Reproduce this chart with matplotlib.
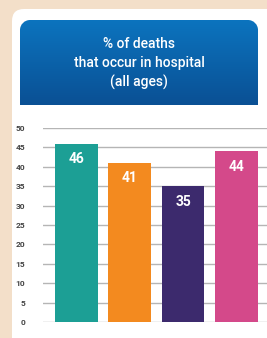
import numpy as np
import matplotlib.pyplot as plt
from matplotlib.path import Path
from matplotlib.patches import FancyBboxPatch

# data
categories = ['A', 'B', 'C', 'D']
values = [46, 41, 35, 44]
colors = ['#1c9f95', '#f38a1f', '#3c2a6d', '#d4498a']
yticks = list(range(0, 51, 5))
title = '% of deaths\nthat occur in hospital\n(all ages)'

W, H = 267, 338
fig = plt.figure(figsize=(W / 100, H / 100), dpi=100)
fig.patch.set_facecolor('#f3dfc9')

font = ['Roboto', 'DejaVu Sans']

# white card
card = FancyBboxPatch((12 / W, -0.05), 1.2, (338 - 9) / H + 0.05,
                      boxstyle='round,pad=0,rounding_size=0.045',
                      transform=fig.transFigure, facecolor='white',
                      edgecolor='none', mutation_aspect=W / H, zorder=-10)
fig.patches.append(card)

# blue header with gradient (rounded top, square bottom)
hx0, hx1, hy0, hy1 = 20, 258, 20, 105
hax = fig.add_axes([hx0 / W, 1 - hy1 / H, (hx1 - hx0) / W, (hy1 - hy0) / H])
hax.set_axis_off()
grad = np.linspace(0, 1, 100).reshape(-1, 1)
top = np.array([0x0c, 0x74, 0xbf]) / 255
bot = np.array([0x0a, 0x50, 0x94]) / 255
img = top + (bot - top) * grad[:, :, None]
im = hax.imshow(img, aspect='auto', extent=[0, 1, 0, 1], origin='upper')
hax.set_xlim(0, 1)
hax.set_ylim(0, 1)
rx, ry = 10 / (hx1 - hx0), 10 / (hy1 - hy0)
k = 0.45
verts = [(0, 0), (1, 0), (1, 1 - ry), (1, 1 - ry * k), (1 - rx * k, 1), (1 - rx, 1),
         (rx, 1), (rx * k, 1), (0, 1 - ry * k), (0, 1 - ry), (0, 0)]
codes = [Path.MOVETO, Path.LINETO, Path.LINETO, Path.CURVE4, Path.CURVE4, Path.CURVE4,
         Path.LINETO, Path.CURVE4, Path.CURVE4, Path.CURVE4, Path.CLOSEPOLY]
im.set_clip_path(Path(verts, codes), hax.transAxes)
hax.text(0.5, 0.49, title, color='white', ha='center', va='center',
         fontsize=10, fontweight='medium', linespacing=1.45,
         transform=hax.transAxes, family=font)

# bar chart
ax = fig.add_axes([43 / W, (338 - 322) / H, (267 - 43) / W, 194 / H])
x = np.arange(len(categories))
ax.bar(x, values, width=0.8, color=colors, zorder=2)
for xi, v in zip(x, values):
    ax.text(xi, v - 4, str(v), color='white', ha='center', va='center',
            fontsize=10, fontweight='bold', family=font)
ax.set_xlim(-0.628, 3.572)
ax.set_ylim(0, 50)
ax.set_yticks(yticks)
ax.set_yticklabels([str(t) for t in yticks], fontsize=6, color='#444444',
                   fontweight='bold', family=font)
ax.tick_params(axis='y', length=0, pad=13)
ax.set_xticks([])
ax.grid(axis='y', color='#b5b5b5', linewidth=1.0, zorder=0)
for s in ax.spines.values():
    s.set_visible(False)
ax.set_facecolor('none')

fig.savefig('out.png', dpi=100, facecolor=fig.get_facecolor())
